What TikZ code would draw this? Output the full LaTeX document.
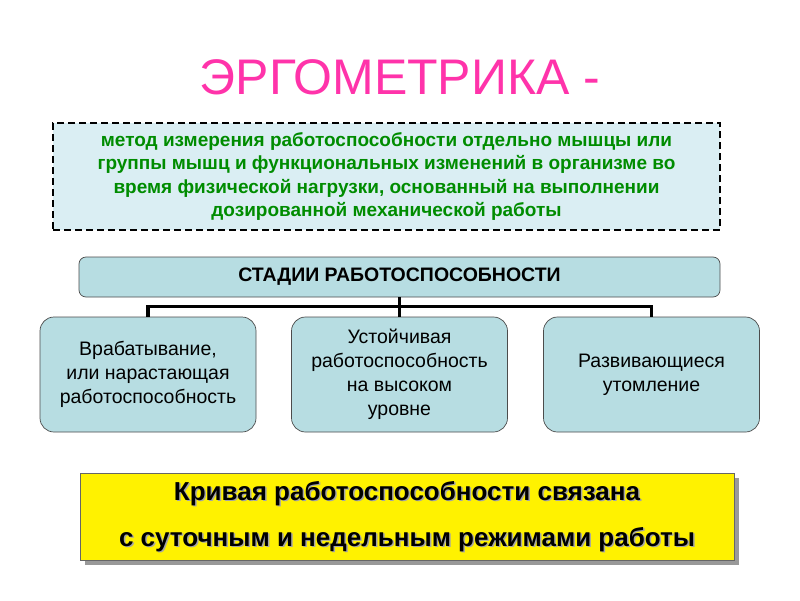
\documentclass[tikz,border=0pt]{standalone}
\usepackage{fontspec}
\setmainfont{Liberation Sans}
\usetikzlibrary{calc}
\definecolor{pink}{RGB}{255,51,170}
\definecolor{lcyan}{RGB}{218,238,243}
\definecolor{boxc}{RGB}{183,221,226}
\definecolor{grn}{RGB}{0,140,0}
\begin{document}
\begin{tikzpicture}[x=1pt,y=-1pt,
  stage/.style={draw=black!70,fill=boxc,rounded corners=14pt,minimum width=216pt,minimum height=115pt,align=center,font=\fontsize{19.5}{24}\selectfont,line width=0.7pt},
  conn/.style={line width=3.5pt}]
\useasboundingbox (0,0) rectangle (800,600);
\fill[white] (0,0) rectangle (800,600);
\node (title) at (400,77) {\color{pink}\fontsize{50}{56}\selectfont ЭРГОМЕТРИКА -};
\node[draw,dash pattern=on 7pt off 4pt,line width=1.6pt,fill=lcyan,minimum width=667pt,minimum height=107pt,align=center,text=grn,font=\bfseries\fontsize{19}{23.5}\selectfont,inner sep=0pt] (def) at (386.5,176.5)
 {метод измерения работоспособности отдельно мышцы или\\группы мышц и функциональных изменений в организме во\\время физической нагрузки, основанный на выполнении\\дозированной механической работы};
\node[draw=black!70,fill=boxc,rounded corners=7pt,minimum width=641pt,minimum height=40pt,font=\bfseries\fontsize{19.5}{22}\selectfont,line width=0.7pt] (st) at (399.5,277) {СТАДИИ РАБОТОСПОСОБНОСТИ};
\node[stage] (a) at (148,374.5) {Врабатывание,\\или нарастающая\\работоспособность};
\node[stage] (b) at (399.5,374.5) {Устойчивая\\работоспособность\\на высоком\\уровне};
\node[stage] (c) at (651.5,374.5) {Развивающиеся\\утомление};
\draw[conn] (st.south) -- (b.north);
\draw[conn] (a.north) -- ++(0,-10) -| (c.north);
\fill[black!40] (85,478) rectangle (739,565);
\node[draw=black!60,fill=yellow,minimum width=654pt,minimum height=87pt,line width=0.7pt] (y) at (407,516.5) {};
\foreach \dx/\col in {1.5/black!35,0/black}{
\node[align=center,font=\bfseries\fontsize{26}{46}\selectfont,text=\col,inner sep=0pt] at ($(y)+(\dx,\dx)$) {Кривая работоспособности связана\\с суточным и недельным режимами работы};}
\end{tikzpicture}
\end{document}
